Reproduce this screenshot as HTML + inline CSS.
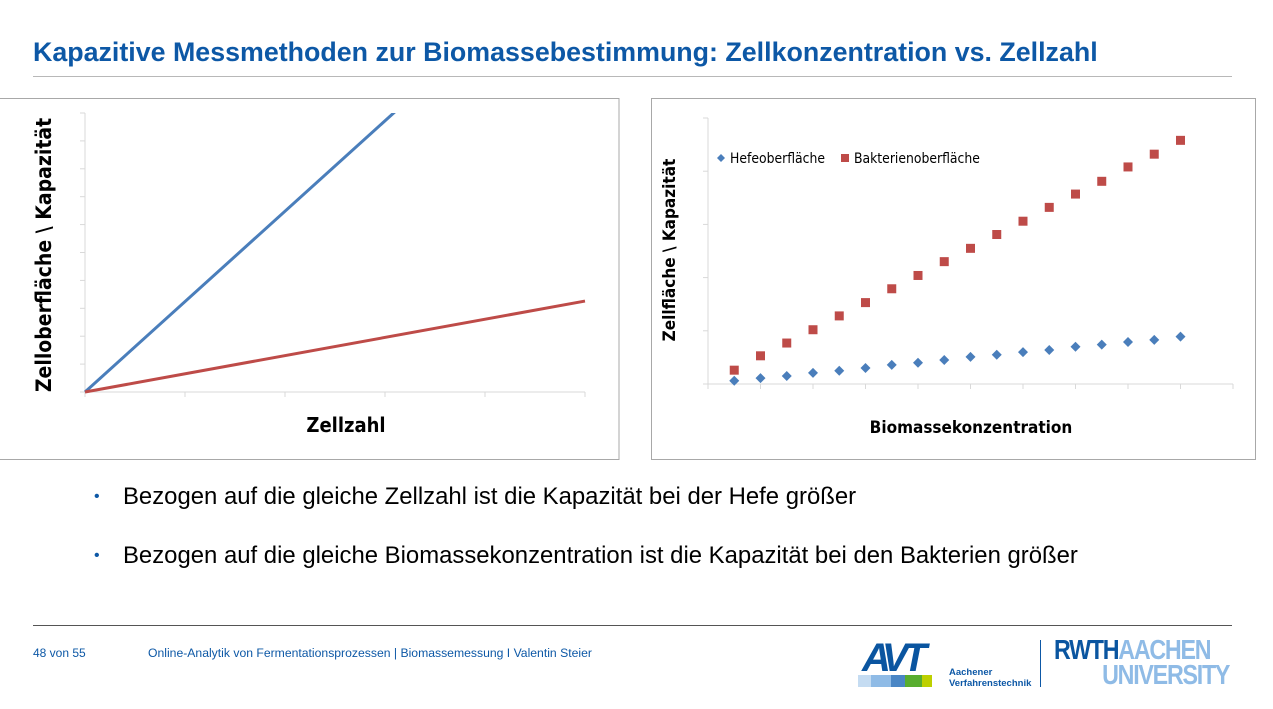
<!DOCTYPE html>
<html><head><meta charset="utf-8"><style>
body{margin:0;width:1273px;height:709px;background:#fff;font-family:"Liberation Sans",sans-serif;position:relative;overflow:hidden}
.abs{position:absolute}
</style></head><body>
<div class="abs" style="left:33px;top:37px;font-size:26.8px;font-weight:bold;color:#0d58a6;white-space:nowrap;letter-spacing:0px">Kapazitive Messmethoden zur Biomassebestimmung: Zellkonzentration vs. Zellzahl</div>
<div class="abs" style="left:33px;top:76px;width:1199px;height:1px;background:#b8b8b8"></div>

<svg class="abs" style="left:0;top:0" width="1273" height="470">
<g id="left"></g>
<g id="right"></g>
</svg>

<div class="abs" style="left:94px;top:483px;font-size:23.9px;white-space:nowrap"><span style="color:#0d58a6;font-size:16px;position:relative;top:-3px">•</span><span style="position:absolute;left:29px">Bezogen auf die gleiche Zellzahl ist die Kapazität bei der Hefe größer</span></div>
<div class="abs" style="left:94px;top:542px;font-size:23.9px;white-space:nowrap"><span style="color:#0d58a6;font-size:16px;position:relative;top:-3px">•</span><span style="position:absolute;left:29px">Bezogen auf die gleiche Biomassekonzentration ist die Kapazität bei den Bakterien größer</span></div>

<div class="abs" style="left:33px;top:625px;width:1199px;height:1px;background:#555"></div>
<div class="abs" style="left:33px;top:646px;font-size:12px;color:#0d58a6">48 von 55</div>
<div class="abs" style="left:148px;top:646px;font-size:12.2px;color:#0d58a6;white-space:nowrap">Online-Analytik von Fermentationsprozessen | Biomassemessung I Valentin Steier</div>

<div class="abs" style="left:858px;top:640px;width:82px;height:48px">
<div class="abs" style="left:4px;top:0;font:italic bold 40px 'Liberation Sans',sans-serif;color:#0a55a0;letter-spacing:-6px;line-height:36px">AVT</div>
<div class="abs" style="left:0;top:35px;width:13px;height:12px;background:#c5dcf2"></div>
<div class="abs" style="left:13px;top:35px;width:20px;height:12px;background:#8fbbe6"></div>
<div class="abs" style="left:33px;top:35px;width:14px;height:12px;background:#4a86c5"></div>
<div class="abs" style="left:47px;top:35px;width:17px;height:12px;background:#58ad2f"></div>
<div class="abs" style="left:64px;top:35px;width:10px;height:12px;background:#bdd000"></div>
</div>
<div class="abs" style="left:949px;top:667px;font-size:9.5px;font-weight:bold;color:#0d58a6;line-height:11px">Aachener<br>Verfahrenstechnik</div>
<div class="abs" style="left:1040px;top:640px;width:1px;height:47px;background:#0d58a6"></div>
<div class="abs" style="left:1054px;top:637px;font-size:28px;font-weight:bold;line-height:25px;letter-spacing:-1.5px;transform:scaleX(0.83);transform-origin:left top;white-space:nowrap"><span style="color:#0a55a0">RWTH</span><span style="color:#8fbbe6">AACHEN</span><br><span style="color:#8fbbe6;margin-left:58px">UNIVERSITY</span></div>

<script>
// Left chart data
const leftX = [0, 5];
const leftBlue = [0, 16.2];
const leftRed = [0, 3.26];
const leftYTicks = [0,1,2,3,4,5,6,7,8,9,10];
const leftXTicks = [0,1,2,3,4,5];
// Right chart data
const rightX = [0.5,1,1.5,2,2.5,3,3.5,4,4.5,5,5.5,6,6.5,7,7.5,8,8.5,9];
const hefe = [0.06,0.11,0.15,0.21,0.25,0.30,0.36,0.40,0.45,0.51,0.55,0.60,0.64,0.70,0.74,0.79,0.83,0.89];
const bakterien = [0.26,0.53,0.77,1.02,1.28,1.53,1.79,2.04,2.30,2.55,2.81,3.06,3.32,3.57,3.81,4.08,4.32,4.58];
const rightYTicks = [0,1,2,3,4,5];
const rightXTicks = [0,1,2,3,4,5,6,7,8,9,10];

const NS='http://www.w3.org/2000/svg';
function mk(p,t,a){const e=document.createElementNS(NS,t);for(const k in a)e.setAttribute(k,a[k]);p.appendChild(e);return e;}

// LEFT
const L=document.getElementById('left');
const lx=v=>85+v*100, ly=v=>392-v*27.9;
let e=mk(L,'rect',{x:-1,y:98.5,width:620,height:361,fill:'#fff',stroke:'#a8a8a8'});

mk(L,'line',{x1:lx(0),y1:ly(10),x2:lx(0),y2:ly(0),stroke:'#d9d9d9'});
mk(L,'line',{x1:lx(0),y1:ly(0),x2:lx(5),y2:ly(0),stroke:'#d9d9d9'});
leftYTicks.forEach(t=>{const l=mk(L,'line',{x1:lx(0)-5,y1:ly(t),x2:lx(0),y2:ly(t),stroke:'#d9d9d9'});});
leftXTicks.forEach(t=>{const l=mk(L,'line',{x1:lx(t),y1:ly(0),x2:lx(t),y2:ly(0)+5,stroke:'#d9d9d9'});});
const cp=mk(L,'clipPath',{id:'lclip'});mk(cp,'rect',{x:lx(0)-3,y:ly(10),width:505,height:290});
e=mk(L,'polyline',{points:leftX.map((x,i)=>lx(x)+','+ly(leftBlue[i])).join(' '),fill:'none',stroke:'#4a7ebb',"stroke-width":3,"clip-path":'url(#lclip)'});

e=mk(L,'polyline',{points:leftX.map((x,i)=>lx(x)+','+ly(leftRed[i])).join(' '),fill:'none',stroke:'#be4b48',"stroke-width":3,"clip-path":'url(#lclip)'});

e=mk(L,'text',{x:346,y:432,"text-anchor":'middle',"font-family":'DejaVu Sans Condensed, Liberation Sans, sans-serif',"font-weight":'bold',"font-size":20});e.textContent='Zellzahl';

e=mk(L,'text',{x:0,y:0,transform:'translate(51,255) rotate(-90)',"text-anchor":'middle',"font-family":'DejaVu Sans Condensed, Liberation Sans, sans-serif',"font-weight":'bold',"font-size":21});e.textContent='Zelloberfläche \\ Kapazität';


// RIGHT
const R=document.getElementById('right');
const rx=v=>708+v*52.5, ry=v=>384-v*53.2;
e=mk(R,'rect',{x:651.5,y:98.5,width:604,height:361,fill:'#fff',stroke:'#a8a8a8'});

mk(R,'line',{x1:rx(0),y1:ry(5),x2:rx(0),y2:ry(0),stroke:'#d9d9d9'});
mk(R,'line',{x1:rx(0),y1:ry(0),x2:rx(10),y2:ry(0),stroke:'#d9d9d9'});
rightYTicks.forEach(t=>{const l=mk(R,'line',{x1:rx(0)-5,y1:ry(t),x2:rx(0),y2:ry(t),stroke:'#d9d9d9'});});
rightXTicks.forEach(t=>{const l=mk(R,'line',{x1:rx(t),y1:ry(0),x2:rx(t),y2:ry(0)+5,stroke:'#d9d9d9'});});
rightX.forEach((x,i)=>{
  const cx=rx(x),cy=ry(hefe[i]);
  const d=mk(R,'polygon',{points:`${cx},${cy-5} ${cx+5},${cy} ${cx},${cy+5} ${cx-5},${cy}`,fill:'#4a7ebb'});
  
  const by=ry(bakterien[i]);
  const s=mk(R,'rect',{x:cx-4.5,y:by-4.5,width:9,height:9,fill:'#be4b48'});
  
});
const lg=mk(R,'g',{});
mk(lg,'polygon',{points:'721,154 725,158 721,162 717,158',fill:'#4a7ebb'});
e=mk(lg,'text',{x:730,y:163,"font-family":'DejaVu Sans Condensed, Liberation Sans, sans-serif',"font-size":13.8});e.textContent='Hefeoberfläche';

mk(lg,'rect',{x:841,y:154,width:8,height:8,fill:'#be4b48'});
e=mk(lg,'text',{x:854,y:163,"font-family":'DejaVu Sans Condensed, Liberation Sans, sans-serif',"font-size":13.8});e.textContent='Bakterienoberfläche';

e=mk(R,'text',{x:971,y:433,"text-anchor":'middle',"font-family":'DejaVu Sans Condensed, Liberation Sans, sans-serif',"font-weight":'bold',"font-size":17});e.textContent='Biomassekonzentration';

e=mk(R,'text',{x:0,y:0,transform:'translate(675,250) rotate(-90)',"text-anchor":'middle',"font-family":'DejaVu Sans Condensed, Liberation Sans, sans-serif',"font-weight":'bold',"font-size":17});e.textContent='Zellfläche \\ Kapazität';

</script>
</body></html>
